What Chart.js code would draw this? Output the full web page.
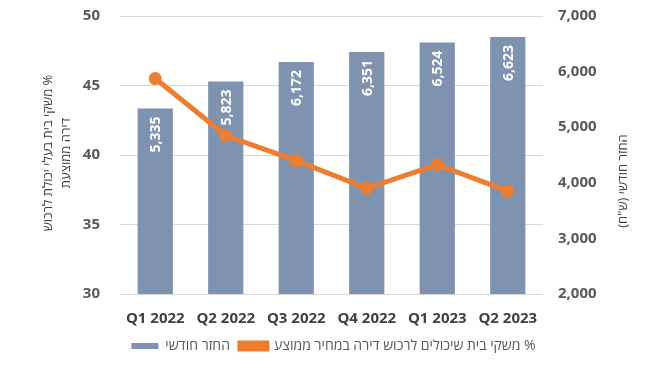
<!DOCTYPE html>
<html>
<head>
<meta charset="utf-8">
<script src="https://cdn.jsdelivr.net/npm/chart.js@4/dist/chart.umd.min.js"></script>
<style>
html,body{margin:0;padding:0;background:#fff;}
#wrap{width:667px;height:376px;position:relative;}
</style>
</head>
<body>
<div id="wrap"><canvas id="c" width="667" height="376"></canvas></div>
<script>
const categories = ['Q1 2022','Q2 2022','Q3 2022','Q4 2022','Q1 2023','Q2 2023'];
const monthlyPayment = [5335, 5823, 6172, 6351, 6524, 6623];
const affordPct = [45.5, 41.4, 39.6, 37.6, 39.3, 37.4];
const leftTicks = [30, 35, 40, 45, 50];
const rightTicks = [2000, 3000, 4000, 5000, 6000, 7000];
const barLabel = 'החזר חודשי';
const lineLabel = '% משקי בית שיכולים לרכוש דירה במחיר ממוצע';
const leftTitle = ['% משקי בית בעלי יכולת לרכוש', 'דירה ממוצעת'];
const rightTitle = 'החזר חודשי (ש"ח)';

const FONT = '"Open Sans", "Liberation Sans", "DejaVu Sans", sans-serif';
const fmt = v => v.toLocaleString('en-US');

const barLabels = {
  id: 'barLabels',
  afterDatasetDraw(chart, args) {
    if (args.index !== 1) return;
    const ctx = chart.ctx;
    const meta = args.meta;
    ctx.save();
    ctx.fillStyle = '#ffffff';
    ctx.font = 'bold 14px ' + FONT;
    meta.data.forEach((el, i) => {
      ctx.save();
      ctx.translate(el.x, el.y + 8);
      ctx.rotate(-Math.PI / 2);
      ctx.textAlign = 'right';
      ctx.textBaseline = 'middle';
      ctx.fillText(fmt(monthlyPayment[i]), 0, 1);
      ctx.restore();
    });
    ctx.restore();
  }
};

const axisTitles = {
  id: 'axisTitles',
  afterDraw(chart) {
    const ctx = chart.ctx;
    const ca = chart.chartArea;
    ctx.save();
    ctx.fillStyle = '#404040';
    ctx.font = '13px ' + FONT;
    ctx.direction = 'rtl';
    ctx.textAlign = 'center';
    ctx.textBaseline = 'middle';
    const cy = (ca.top + ca.bottom) / 2;
    ctx.save();
    ctx.translate(48, cy - 2);
    ctx.rotate(-Math.PI / 2);
    ctx.fillText(leftTitle[0], 0, 0);
    ctx.fillText(leftTitle[1], 0, 18);
    ctx.restore();
    ctx.save();
    ctx.translate(623, cy + 26);
    ctx.rotate(-Math.PI / 2);
    ctx.fillText(rightTitle, 0, 0);
    ctx.restore();
    ctx.restore();
  }
};

function fixY(width) {
  return function (s) {
    s.width = width;
    s.paddingTop = 0;
    s.paddingBottom = 0;
  };
}

new Chart(document.getElementById('c'), {
  type: 'bar',
  data: {
    labels: categories,
    datasets: [
      {
        type: 'line',
        label: lineLabel,
        data: affordPct,
        yAxisID: 'y',
        borderColor: '#ED7D31',
        backgroundColor: '#ED7D31',
        borderWidth: 5,
        pointRadius: 6.5,
        pointBackgroundColor: '#ED7D31',
        pointBorderColor: '#ED7D31',
        pointBorderWidth: 0,
        tension: 0
      },
      {
        type: 'bar',
        label: barLabel,
        data: monthlyPayment,
        yAxisID: 'y1',
        backgroundColor: '#7F93B0',
        borderWidth: 0,
        barPercentage: 0.5,
        categoryPercentage: 1
      }
    ]
  },
  options: {
    responsive: false,
    animation: false,
    devicePixelRatio: 1,
    layout: { padding: { top: 16, bottom: 13, left: 0, right: 0 } },
    plugins: {
      legend: {
        position: 'bottom',
        reverse: true,
        textDirection: 'rtl',
        labels: {
          boxWidth: 27,
          boxHeight: 6,
          padding: 10,
          color: '#595959',
          font: { family: FONT, size: 14 }
        }
      },
      tooltip: { enabled: false }
    },
    scales: {
      x: {
        grid: { display: false },
        border: { display: false },
        ticks: {
          color: '#404040',
          font: { family: FONT, size: 15, weight: 'bold' },
          padding: 8,
          maxRotation: 0
        },
        afterFit(s) { s.height = 35; s.paddingLeft = 0; s.paddingRight = 0; }
      },
      y: {
        position: 'left',
        min: 30, max: 50,
        afterBuildTicks(s) { s.ticks = leftTicks.map(v => ({ value: v })); },
        grid: { color: '#d9d9d9', drawTicks: false },
        border: { display: false },
        ticks: {
          color: '#595959',
          font: { family: FONT, size: 15, weight: 'bold' },
          padding: 20
        },
        afterFit: fixY(120)
      },
      y1: {
        position: 'right',
        min: 2000, max: 7000,
        afterBuildTicks(s) { s.ticks = rightTicks.map(v => ({ value: v })); },
        grid: { display: false, drawTicks: false },
        border: { display: false },
        ticks: {
          color: '#595959',
          font: { family: FONT, size: 15, weight: 'bold' },
          padding: 15,
          callback: v => fmt(v)
        },
        afterFit: fixY(124)
      }
    }
  },
  plugins: [barLabels, axisTitles]
});
</script>
</body>
</html>
